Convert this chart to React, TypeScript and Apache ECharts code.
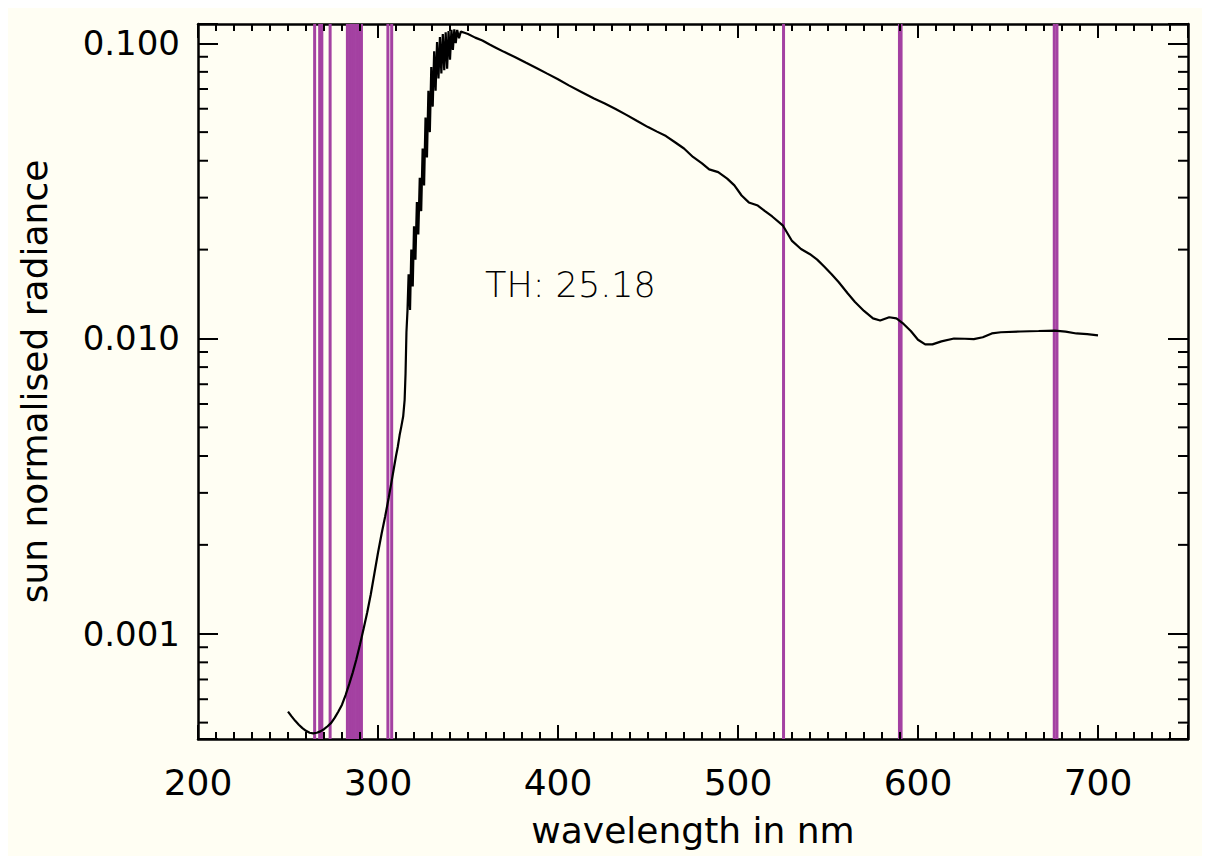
import React, { useEffect, useRef } from "react";
import * as echarts from "echarts";

// ---- data ----
const wavelength = [
  250, 252, 254, 256, 258, 260, 262, 264, 266, 268, 270, 272, 274, 276, 278, 280,
  282, 284, 286, 288, 290, 292, 294, 296, 298, 300, 302, 304, 306, 308, 310, 311,
  312, 313, 314, 314.8, 315.3, 315.8, 316.4, 317.0, 317.8, 318.5, 319.3, 320.0,
  320.8, 321.6, 322.4, 323.2, 324.0, 324.8, 325.6, 326.4, 327.2, 328.0, 328.8,
  329.6, 330.4, 331.2, 332.0, 332.8, 333.6, 334.4, 335.2, 336.0, 336.8, 337.6,
  338.4, 339.2, 340.0, 340.8, 341.6, 342.4, 343.2, 344.0, 345.0, 346.0, 348.0,
  350.0, 354, 358, 362, 366, 370, 376, 382, 388, 394, 400, 406, 413, 420, 426,
  432, 438, 444, 450, 455, 460, 465, 470, 475, 480, 484, 489, 494, 498, 502, 506,
  511, 515, 519, 525, 530, 535, 540, 544, 548, 552, 556, 561, 565, 570, 575, 579,
  584, 588, 592, 596, 600, 604, 608, 613, 620, 626, 631, 636, 641, 646, 657, 667,
  676, 682, 688, 694, 700,
];
const radiance = [
  5.45e-4, 5.25e-4, 5.07e-4, 4.92e-4, 4.79e-4, 4.69e-4, 4.62e-4, 4.6e-4, 4.62e-4,
  4.67e-4, 4.75e-4, 4.86e-4, 4.99e-4, 5.2e-4, 5.45e-4, 5.75e-4, 6.2e-4, 6.75e-4,
  7.4e-4, 8.2e-4, 9.2e-4, 1.04e-3, 1.18e-3, 1.36e-3, 1.6e-3, 1.88e-3, 2.18e-3,
  2.5e-3, 2.9e-3, 3.4e-3, 4.0e-3, 4.3e-3, 4.7e-3, 5.05e-3, 5.45e-3, 6.2e-3, 7.6e-3,
  1.05e-2, 1.25e-2, 1.65e-2, 1.25e-2, 2.0e-2, 1.5e-2, 2.4e-2, 1.85e-2, 2.9e-2,
  2.25e-2, 3.5e-2, 2.7e-2, 4.4e-2, 3.3e-2, 5.6e-2, 4.1e-2, 6.9e-2, 5.0e-2, 8.3e-2,
  6.1e-2, 9.4e-2, 6.9e-2, 0.101, 0.076, 0.105, 0.079, 0.1075, 0.081, 0.109, 0.082,
  0.11, 0.088, 0.111, 0.095, 0.1115, 0.1, 0.111, 0.104, 0.1095, 0.1085, 0.1075,
  0.1045, 0.1022, 0.099, 0.0962, 0.0935, 0.0899, 0.086, 0.0825, 0.0789, 0.0755,
  0.072, 0.0684, 0.065, 0.0625, 0.0599, 0.0572, 0.0545, 0.052, 0.0502, 0.0485,
  0.0462, 0.044, 0.0412, 0.0392, 0.0374, 0.0366, 0.0348, 0.033, 0.0305, 0.0289,
  0.0282, 0.027, 0.0259, 0.0241, 0.0214, 0.0201, 0.0193, 0.0185, 0.0175, 0.0165,
  0.0155, 0.0142, 0.0133, 0.0124, 0.0117, 0.0115, 0.0118, 0.0117, 0.0112, 0.0106,
  0.0099, 0.00955, 0.00955, 0.00978, 0.01, 0.00998, 0.00995, 0.0101, 0.0104,
  0.0105, 0.01056, 0.0106, 0.01064, 0.01055, 0.0104, 0.01034, 0.01025,
];
const absorptionLines = [
  264.8, 267.6, 268.8, 273.4, 283.0, 284.3, 285.6, 286.9, 288.2, 289.5, 290.8,
  305.5, 307.6, 525.3, 589.7, 590.6, 675.7, 677.2,
];
const xMinorTicks = [
  210, 220, 230, 240, 250, 260, 270, 280, 290, 310, 320, 330, 340, 350, 360, 370,
  380, 390, 410, 420, 430, 440, 450, 460, 470, 480, 490, 510, 520, 530, 540, 550,
  560, 570, 580, 590, 610, 620, 630, 640, 650, 660, 670, 680, 690, 710, 720, 730,
  740,
];
const yMinorTicks = [
  5e-4, 6e-4, 7e-4, 8e-4, 9e-4, 2e-3, 3e-3, 4e-3, 5e-3, 6e-3, 7e-3, 8e-3, 9e-3,
  2e-2, 3e-2, 4e-2, 5e-2, 6e-2, 7e-2, 8e-2, 9e-2,
];
const annotation = "TH: 25.18";
const xName = "wavelength in nm";
const yName = "sun normalised radiance";

const X_MIN = 200;
const X_MAX = 750;
const Y_MIN = 0.00044;
const Y_MAX = 0.1162;

const FONT = "DejaVu Sans";
const PURPLE = "#a441a2";

export default function App() {
  const ref = useRef<HTMLDivElement>(null);
  useEffect(() => {
    if (!ref.current) return;
    const chart = echarts.init(ref.current, null, { renderer: "svg" });
    const axisLine = { show: true, onZero: false, lineStyle: { color: "#000", width: 2.5 } };
    const tickStyle = { color: "#000", width: 2 };
    const yFmt = (v: number) => {
      const l = Math.log10(v);
      return Math.abs(l - Math.round(l)) < 1e-6 ? v.toFixed(3) : "";
    };
    const option: any = {
      animation: false,
      backgroundColor: "#fffef3",
      grid: { left: 187, top: 19, right: 14, bottom: 117, containLabel: false },
      xAxis: [
        {
          type: "value", min: X_MIN, max: X_MAX, interval: 100, position: "bottom",
          axisLine, splitLine: { show: false },
          axisTick: { show: true, inside: true, length: 14, lineStyle: tickStyle },
          axisLabel: {
            margin: 25, fontSize: 36, color: "#000", fontFamily: FONT,
            formatter: (v: number) => (v % 100 === 0 && v < X_MAX ? String(v) : ""),
          },
          name: xName, nameLocation: "middle", nameGap: 73,
          nameTextStyle: { fontSize: 36, color: "#000", fontFamily: FONT },
        },
        {
          type: "value", min: X_MIN, max: X_MAX, interval: 100, position: "top",
          axisLine, splitLine: { show: false },
          axisTick: { show: true, inside: true, length: 14, lineStyle: tickStyle },
          axisLabel: { show: false },
        },
      ],
      yAxis: [
        {
          type: "log", logBase: 10, min: Y_MIN, max: Y_MAX, position: "left",
          axisLine, splitLine: { show: false },
          axisTick: { show: true, inside: true, length: 20, lineStyle: tickStyle },
          axisLabel: { margin: 18, fontSize: 34, color: "#000", fontFamily: FONT, formatter: yFmt },
          name: yName, nameLocation: "middle", nameGap: 146, nameRotate: 90,
          nameTextStyle: { fontSize: 36, color: "#000", fontFamily: FONT },
        },
        {
          type: "log", logBase: 10, min: Y_MIN, max: Y_MAX, position: "right",
          axisLine, splitLine: { show: false },
          axisTick: { show: true, inside: true, length: 20, lineStyle: tickStyle },
          axisLabel: { show: false },
        },
      ],
      series: [
        {
          type: "custom", name: "lines", z: 1, clip: false,
          data: absorptionLines.map((w) => [w, Y_MIN]),
          encode: { x: 0, y: 1 },
          renderItem: (params: any, api: any) => {
            const cs = params.coordSys;
            const p = api.coord([api.value(0), Y_MIN]);
            return {
              type: "line",
              shape: { x1: p[0], y1: cs.y, x2: p[0], y2: cs.y + cs.height },
              style: { stroke: PURPLE, lineWidth: 3 },
            };
          },
        },
        {
          type: "line", name: "radiance", z: 5,
          data: wavelength.map((w, i) => [w, radiance[i]]),
          showSymbol: false, symbol: "none",
          lineStyle: { color: "#000", width: 2.2 },
        },
        {
          type: "custom", name: "xminor", z: 6, clip: false,
          data: xMinorTicks.map((w) => [w, Y_MIN]),
          encode: { x: 0, y: 1 },
          renderItem: (params: any, api: any) => {
            const cs = params.coordSys;
            const p = api.coord([api.value(0), Y_MIN]);
            const b = cs.y + cs.height;
            return {
              type: "group",
              children: [
                { type: "line", shape: { x1: p[0], y1: b, x2: p[0], y2: b - 7 }, style: { stroke: "#000", lineWidth: 2 } },
                { type: "line", shape: { x1: p[0], y1: cs.y, x2: p[0], y2: cs.y + 7 }, style: { stroke: "#000", lineWidth: 2 } },
              ],
            };
          },
        },
        {
          type: "custom", name: "yminor", z: 6, clip: false,
          data: yMinorTicks.map((v) => [X_MIN, v]),
          encode: { x: 0, y: 1 },
          renderItem: (params: any, api: any) => {
            const cs = params.coordSys;
            const p = api.coord([X_MIN, api.value(1)]);
            const r = cs.x + cs.width;
            return {
              type: "group",
              children: [
                { type: "line", shape: { x1: cs.x, y1: p[1], x2: cs.x + 10, y2: p[1] }, style: { stroke: "#000", lineWidth: 2 } },
                { type: "line", shape: { x1: r - 10, y1: p[1], x2: r, y2: p[1] }, style: { stroke: "#000", lineWidth: 2 } },
              ],
            };
          },
        },
      ],
      graphic: [
        {
          type: "text", x: 477, y: 280, z: 10,
          style: {
            text: annotation, fontSize: 35, fontFamily: FONT, fontWeight: 200,
            fill: "#000", align: "left", verticalAlign: "middle",
          },
        },
      ],
    };
    chart.setOption(option);
    return () => chart.dispose();
  }, []);
  return (
    <div
      ref={ref}
      style={{ width: 1194, height: 851, marginTop: -3, background: "#fffef3" }}
    />
  );
}
